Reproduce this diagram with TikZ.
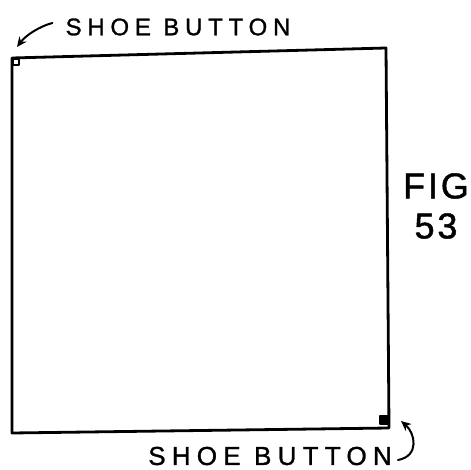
\documentclass[tikz,border=0pt]{standalone}
\usepackage{fontspec}
\newfontfamily\handfont[LetterSpace=24,FakeBold=1.2]{Liberation Sans}
\newfontfamily\figfont[LetterSpace=8,FakeBold=1.2]{Liberation Sans}
\usetikzlibrary{arrows.meta,positioning}

\begin{document}
\begin{tikzpicture}[
 x=1pt,y=-1pt,line cap=round,line join=round,
 edge/.style={draw=black,line width=2.8pt},
 button/.style={draw=black,line width=1.3pt,inner sep=0pt},
 lettering/.style={inner sep=0pt,anchor=center},
 pointer/.style={draw=black,line width=2pt,-{Stealth[length=10pt,width=9pt]}}]
\path[use as bounding box] (0,0) rectangle (471,470);

% the card
\coordinate (cTL) at (12,58);
\coordinate (cTR) at (386,48);
\coordinate (cBR) at (389,428);
\coordinate (cBL) at (12,433);
\draw[edge] (cTL) -- (cTR) -- (cBR) -- (cBL) -- cycle;

% buttons in the corners
\node[button,minimum size=6pt] (btnTL) at (16,62) {};
\node[button,fill=black,minimum size=8pt] (btnBR) at (384,420) {};

% labels
\node[lettering,font=\handfont\fontsize{24}{25}\selectfont] (shoeTop) at (178,27) {SHOE BUTTON};
\node[lettering,font=\handfont\fontsize{26}{27}\selectfont] (shoeBot) at (270,456) {SHOE BUTTON};
\node[lettering,font=\figfont\fontsize{36}{37}\selectfont] (figA) at (436,186) {FIG};
\node[lettering,font=\figfont\fontsize{36}{37}\selectfont] (figB) at (436,226) {53};

% pointers to the buttons
\coordinate (tipTL) at (17,47);
\coordinate (tipBR) at (401,421);
\draw[pointer] ([xshift=-13pt,yshift=4pt]shoeTop.west) .. controls +(-12,3) and +(9,-12) .. (tipTL);
\draw[pointer] ([xshift=6pt,yshift=-4pt]shoeBot.east) .. controls +(22,-4) and +(14,12) .. (tipBR);
\end{tikzpicture}
\end{document}
